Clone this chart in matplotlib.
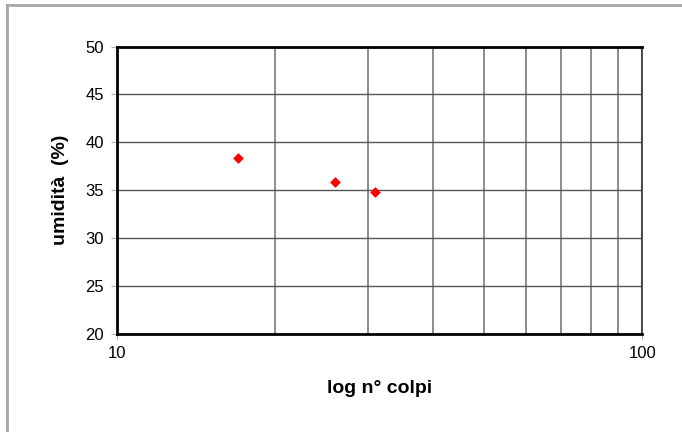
import matplotlib.pyplot as plt
from matplotlib.lines import Line2D
from matplotlib.ticker import FixedLocator, NullFormatter

plt.rcParams['font.family'] = ['Liberation Sans', 'DejaVu Sans']

# Data
colpi = [17, 26, 31]
umidita = [38.4, 35.8, 34.8]
y_ticks = [20, 25, 30, 35, 40, 45, 50]
x_ticks = [10, 100]
x_minor = [20, 30, 40, 50, 60, 70, 80, 90]

fig = plt.figure(figsize=(6.82, 4.32), dpi=100)
ax = fig.add_axes([0.171, 0.228, 0.771, 0.664])

ax.scatter(colpi, umidita, marker='D', s=30, color='#ff0000', zorder=3, linewidths=0)

ax.set_xscale('log')
ax.set_xlim(10, 100)
ax.set_ylim(20, 50)
ax.set_yticks(y_ticks)
ax.set_xticks(x_ticks)
ax.set_xticklabels(['10', '100'])
ax.xaxis.set_minor_locator(FixedLocator(x_minor))
ax.xaxis.set_minor_formatter(NullFormatter())

ax.yaxis.grid(True, color='#555555', linewidth=1.0)
ax.xaxis.grid(True, which='both', color='#8c8c8c', linewidth=1.4)
ax.set_axisbelow(True)
ax.tick_params(axis='both', which='major', labelsize=12, length=4, color='#b0b0b0')
ax.tick_params(axis='y', pad=5)
ax.tick_params(axis='x', pad=5)
ax.tick_params(axis='x', which='minor', length=0)

for side in ['top', 'left', 'bottom']:
    ax.spines[side].set_linewidth(2.0)
    ax.spines[side].set_color('black')
ax.spines['right'].set_linewidth(1.2)
ax.spines['right'].set_color('#333333')

ax.set_xlabel('log n° colpi', fontsize=14, fontweight='bold', labelpad=14)
ax.set_ylabel('umidità  (%)', fontsize=14, fontweight='bold', labelpad=12)

# outer frame (top and left visible)
fig.add_artist(Line2D([7 / 682, 7 / 682], [0, 1 - 5 / 432], transform=fig.transFigure,
                      color='#a6a6a6', linewidth=2))
fig.add_artist(Line2D([7 / 682, 1], [1 - 5 / 432, 1 - 5 / 432], transform=fig.transFigure,
                      color='#a6a6a6', linewidth=2))

plt.savefig('out.png', dpi=100)
